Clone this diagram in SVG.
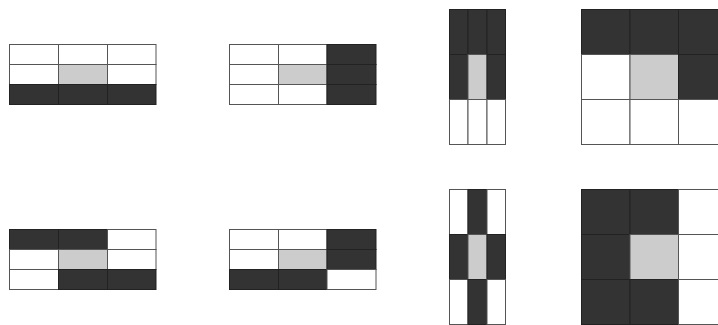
<svg xmlns="http://www.w3.org/2000/svg" width="718" height="325" viewBox="0 0 718 325">
<style>
.w,.g,.d{stroke:#555;stroke-width:1}
.w{fill:#fff}
.g{fill:#ccc}
.d{fill:#333;stroke:#222}
</style>
<rect x="0" y="0" width="718" height="325" fill="#fff"/>
<g id="grid1">
<rect class="w" x="9.5" y="44.5" width="49" height="20"/><rect class="w" x="58.5" y="44.5" width="49" height="20"/><rect class="w" x="107.5" y="44.5" width="48.5" height="20"/>
<rect class="w" x="9.5" y="64.5" width="49" height="20"/><rect class="g" x="58.5" y="64.5" width="49" height="20"/><rect class="w" x="107.5" y="64.5" width="48.5" height="20"/>
<rect class="d" x="9.5" y="84.5" width="49" height="20"/><rect class="d" x="58.5" y="84.5" width="49" height="20"/><rect class="d" x="107.5" y="84.5" width="48.5" height="20"/>
</g>
<g id="grid2">
<rect class="w" x="229.5" y="44.5" width="49" height="20"/><rect class="w" x="278.5" y="44.5" width="48.5" height="20"/><rect class="d" x="327" y="44.5" width="49" height="20"/>
<rect class="w" x="229.5" y="64.5" width="49" height="20"/><rect class="g" x="278.5" y="64.5" width="48.5" height="20"/><rect class="d" x="327" y="64.5" width="49" height="20"/>
<rect class="w" x="229.5" y="84.5" width="49" height="20"/><rect class="w" x="278.5" y="84.5" width="48.5" height="20"/><rect class="d" x="327" y="84.5" width="49" height="20"/>
</g>
<g id="grid3">
<rect class="d" x="449.5" y="9.5" width="18.5" height="45"/><rect class="d" x="468" y="9.5" width="19" height="45"/><rect class="d" x="487" y="9.5" width="18.5" height="45"/>
<rect class="d" x="449.5" y="54.5" width="18.5" height="45"/><rect class="g" x="468" y="54.5" width="19" height="45"/><rect class="d" x="487" y="54.5" width="18.5" height="45"/>
<rect class="w" x="449.5" y="99.5" width="18.5" height="45"/><rect class="w" x="468" y="99.5" width="19" height="45"/><rect class="w" x="487" y="99.5" width="18.5" height="45"/>
</g>
<g id="grid4">
<rect class="d" x="581.5" y="9.5" width="48.5" height="45"/><rect class="d" x="630" y="9.5" width="48.5" height="45"/><rect class="d" x="678.5" y="9.5" width="48.5" height="45"/>
<rect class="w" x="581.5" y="54.5" width="48.5" height="45"/><rect class="g" x="630" y="54.5" width="48.5" height="45"/><rect class="d" x="678.5" y="54.5" width="48.5" height="45"/>
<rect class="w" x="581.5" y="99.5" width="48.5" height="45"/><rect class="w" x="630" y="99.5" width="48.5" height="45"/><rect class="w" x="678.5" y="99.5" width="48.5" height="45"/>
</g>
<g id="grid5">
<rect class="d" x="9.5" y="229.5" width="49" height="20"/><rect class="d" x="58.5" y="229.5" width="49" height="20"/><rect class="w" x="107.5" y="229.5" width="48.5" height="20"/>
<rect class="w" x="9.5" y="249.5" width="49" height="20"/><rect class="g" x="58.5" y="249.5" width="49" height="20"/><rect class="w" x="107.5" y="249.5" width="48.5" height="20"/>
<rect class="w" x="9.5" y="269.5" width="49" height="20"/><rect class="d" x="58.5" y="269.5" width="49" height="20"/><rect class="d" x="107.5" y="269.5" width="48.5" height="20"/>
</g>
<g id="grid6">
<rect class="w" x="229.5" y="229.5" width="49" height="20"/><rect class="w" x="278.5" y="229.5" width="48.5" height="20"/><rect class="d" x="327" y="229.5" width="49" height="20"/>
<rect class="w" x="229.5" y="249.5" width="49" height="20"/><rect class="g" x="278.5" y="249.5" width="48.5" height="20"/><rect class="d" x="327" y="249.5" width="49" height="20"/>
<rect class="d" x="229.5" y="269.5" width="49" height="20"/><rect class="d" x="278.5" y="269.5" width="48.5" height="20"/><rect class="w" x="327" y="269.5" width="49" height="20"/>
</g>
<g id="grid7">
<rect class="w" x="449.5" y="189.5" width="18.5" height="45"/><rect class="d" x="468" y="189.5" width="19" height="45"/><rect class="w" x="487" y="189.5" width="18.5" height="45"/>
<rect class="d" x="449.5" y="234.5" width="18.5" height="45"/><rect class="g" x="468" y="234.5" width="19" height="45"/><rect class="d" x="487" y="234.5" width="18.5" height="45"/>
<rect class="w" x="449.5" y="279.5" width="18.5" height="45"/><rect class="d" x="468" y="279.5" width="19" height="45"/><rect class="w" x="487" y="279.5" width="18.5" height="45"/>
</g>
<g id="grid8">
<rect class="d" x="581.5" y="189.5" width="48.5" height="45"/><rect class="d" x="630" y="189.5" width="48.5" height="45"/><rect class="w" x="678.5" y="189.5" width="48.5" height="45"/>
<rect class="d" x="581.5" y="234.5" width="48.5" height="45"/><rect class="g" x="630" y="234.5" width="48.5" height="45"/><rect class="w" x="678.5" y="234.5" width="48.5" height="45"/>
<rect class="d" x="581.5" y="279.5" width="48.5" height="45"/><rect class="d" x="630" y="279.5" width="48.5" height="45"/><rect class="w" x="678.5" y="279.5" width="48.5" height="45"/>
</g>
<g id="connectors"></g>
</svg>
